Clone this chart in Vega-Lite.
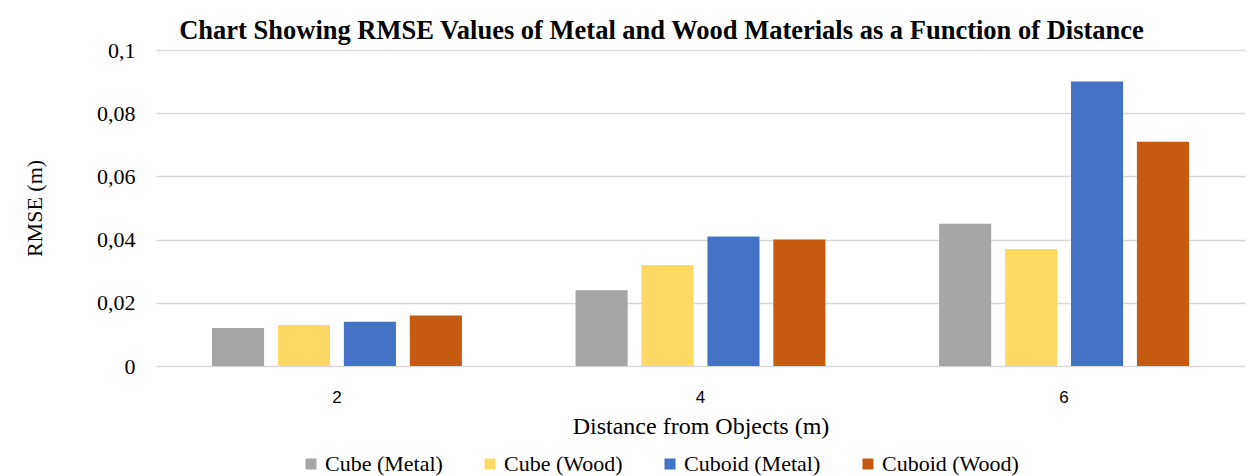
{
  "$schema": "https://vega.github.io/schema/vega-lite/v6.json",
  "autosize": "none",
  "width": 1089,
  "height": 316,
  "padding": {"left": 156, "top": 50, "right": 9, "bottom": 110},
  "background": "white",
  "title": {
    "text": "Chart Showing RMSE Values of Metal and Wood Materials as a Function of Distance",
    "font": "Liberation Serif",
    "fontSize": 26.5,
    "fontWeight": "bold",
    "color": "black",
    "anchor": "middle",
    "dx": -39,
    "offset": -5
  },
  "data": {
    "values": [
      {"distance": "2", "series": "Cube (Metal)", "rmse": 0.012},
      {"distance": "2", "series": "Cube (Wood)", "rmse": 0.013},
      {"distance": "2", "series": "Cuboid (Metal)", "rmse": 0.014},
      {"distance": "2", "series": "Cuboid (Wood)", "rmse": 0.016},
      {"distance": "4", "series": "Cube (Metal)", "rmse": 0.024},
      {"distance": "4", "series": "Cube (Wood)", "rmse": 0.032},
      {"distance": "4", "series": "Cuboid (Metal)", "rmse": 0.041},
      {"distance": "4", "series": "Cuboid (Wood)", "rmse": 0.040},
      {"distance": "6", "series": "Cube (Metal)", "rmse": 0.045},
      {"distance": "6", "series": "Cube (Wood)", "rmse": 0.037},
      {"distance": "6", "series": "Cuboid (Metal)", "rmse": 0.090},
      {"distance": "6", "series": "Cuboid (Wood)", "rmse": 0.071}
    ]
  },
  "mark": {"type": "bar"},
  "encoding": {
    "x": {
      "field": "distance",
      "type": "ordinal",
      "scale": {"paddingInner": 0.3126, "paddingOuter": 0.154},
      "axis": {
        "title": "Distance from Objects (m)",
        "labelAngle": 0,
        "labelFont": "Liberation Sans",
        "labelFontSize": 17,
        "labelColor": "black",
        "labelPadding": 23,
        "ticks": false,
        "domain": false,
        "titleFont": "Liberation Serif",
        "titleFontSize": 24,
        "titleFontWeight": "normal",
        "titleColor": "black",
        "titlePadding": 9
      }
    },
    "xOffset": {
      "field": "series",
      "type": "nominal",
      "sort": ["Cube (Metal)", "Cube (Wood)", "Cuboid (Metal)", "Cuboid (Wood)"],
      "scale": {"paddingInner": 0.21, "paddingOuter": 0}
    },
    "y": {
      "field": "rmse",
      "type": "quantitative",
      "scale": {"domain": [0, 0.1], "nice": false},
      "axis": {
        "title": "RMSE (m)",
        "values": [0, 0.02, 0.04, 0.06, 0.08, 0.1],
        "labelExpr": "replace(format(datum.value, '~g'), '.', ',')",
        "labelFont": "Liberation Serif",
        "labelFontSize": 22,
        "labelColor": "black",
        "labelPadding": 21,
        "ticks": false,
        "domain": false,
        "grid": true,
        "gridColor": "#d9d9d9",
        "gridWidth": 1.5,
        "titleFont": "Liberation Serif",
        "titleFontSize": 22,
        "titleFontWeight": "normal",
        "titleColor": "black",
        "titlePadding": 50
      }
    },
    "color": {
      "field": "series",
      "type": "nominal",
      "sort": ["Cube (Metal)", "Cube (Wood)", "Cuboid (Metal)", "Cuboid (Wood)"],
      "scale": {
        "domain": ["Cube (Metal)", "Cube (Wood)", "Cuboid (Metal)", "Cuboid (Wood)"],
        "range": ["#A5A5A5", "#FED966", "#4472C4", "#C55A11"]
      },
      "legend": {
        "title": null,
        "orient": "none",
        "legendX": 144,
        "legendY": 403,
        "direction": "horizontal",
        "symbolType": "square",
        "symbolSize": 121,
        "symbolStrokeWidth": 0,
        "labelFont": "Liberation Serif",
        "labelFontSize": 22,
        "labelColor": "black",
        "labelOffset": 3,
        "columnPadding": 36
      }
    }
  },
  "config": {
    "view": {"stroke": null}
  }
}
